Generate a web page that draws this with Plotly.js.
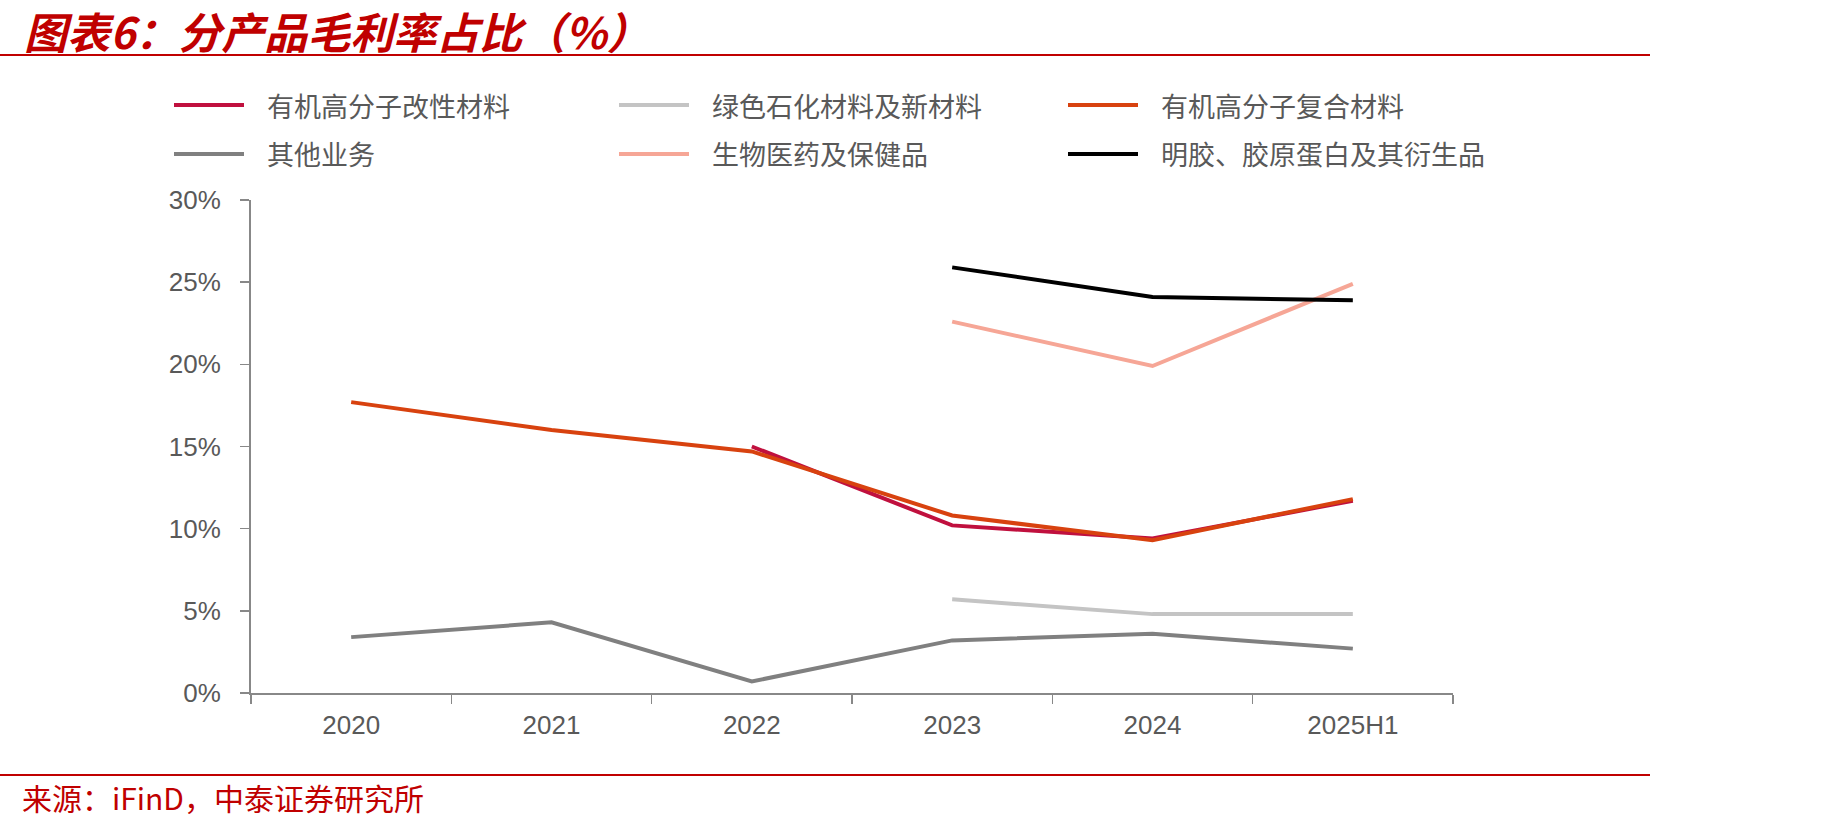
<!DOCTYPE html>
<html>
<head>
<meta charset="utf-8">
<script src="https://cdn.plot.ly/plotly-3.0.1.min.js"></script>
<style>
  html, body { margin: 0; padding: 0; background: #ffffff; }
  #chart { width: 1830px; height: 828px; }
</style>
</head>
<body>
<div id="chart"></div>
<script>
// Gross margin by product line (%), 2020 – 2025H1
const periods = ['2020', '2021', '2022', '2023', '2024', '2025H1'];

const modifiedPolymer   = [null, null, 15.0, 10.2, 9.4, 11.7];   // 有机高分子改性材料
const greenPetrochem    = [null, null, null, 5.7, 4.8, 4.8];     // 绿色石化材料及新材料
const compositePolymer  = [17.7, 16.0, 14.7, 10.8, 9.3, 11.8];   // 有机高分子复合材料
const otherBusiness     = [3.4, 4.3, 0.7, 3.2, 3.6, 2.7];        // 其他业务
const biomedHealth      = [null, null, null, 22.6, 19.9, 24.9];  // 生物医药及保健品
const gelatinCollagen   = [null, null, null, 25.9, 24.1, 23.9];  // 明胶、胶原蛋白及其衍生品

const seriesNames = [
  '有机高分子改性材料', '绿色石化材料及新材料', '有机高分子复合材料',
  '其他业务', '生物医药及保健品', '明胶、胶原蛋白及其衍生品'
];
const seriesValues = [modifiedPolymer, greenPetrochem, compositePolymer,
                      otherBusiness, biomedHealth, gelatinCollagen];
const seriesColors = ['#C0103E', '#C4C4C4', '#D8420F', '#808080', '#F6A696', '#000000'];

const yTickValues = [0, 5, 10, 15, 20, 25, 30];
const yTickLabels = ['0%', '5%', '10%', '15%', '20%', '25%', '30%'];

const titleText  = '图表6：分产品毛利率占比（%）';
const sourceText = '来源：iFinD，中泰证券研究所';

// plot area in page pixels
const PL = 251, PR = 1453, PT = 200, PB = 693;
const W = 1830, H = 828;
const px = x => (x - PL) / (PR - PL);
const py = y => (PB - y) / (PB - PT);

const cjk = '"Noto Sans CJK SC", "Noto Sans", sans-serif';
const latin = '"Liberation Sans", Arial, sans-serif';

const traces = seriesValues.map((vals, i) => ({
  type: 'scatter',
  mode: 'lines',
  name: seriesNames[i],
  x: periods,
  y: vals,
  connectgaps: false,
  line: { color: seriesColors[i], width: 4 },
  hoverinfo: 'x+y+name',
  showlegend: false
}));

// hand-placed legend: three columns, two rows
const legendCols = [174, 619, 1068];
const legendRows = [105, 154];
const shapes = [];
const annotations = [];
seriesNames.forEach((name, i) => {
  const col = i % 3, row = Math.floor(i / 3);
  const x0 = legendCols[col], yy = legendRows[row];
  shapes.push({
    type: 'line', xref: 'paper', yref: 'paper',
    x0: px(x0), x1: px(x0 + 70), y0: py(yy), y1: py(yy),
    line: { color: seriesColors[i], width: 4 }
  });
  annotations.push({
    xref: 'paper', yref: 'paper', x: px(x0 + 91), y: py(yy),
    xanchor: 'left', yanchor: 'middle', showarrow: false,
    text: name, font: { family: cjk, size: 27, color: '#595959' }
  });
});

// header and footer rules
shapes.push({
  type: 'line', xref: 'paper', yref: 'paper',
  x0: px(0), x1: px(1650), y0: py(55), y1: py(55),
  line: { color: '#C00000', width: 2 }
});
shapes.push({
  type: 'line', xref: 'paper', yref: 'paper',
  x0: px(0), x1: px(1650), y0: py(775), y1: py(775),
  line: { color: '#C00000', width: 2 }
});

annotations.push({
  xref: 'paper', yref: 'paper', x: px(22), y: py(30),
  xanchor: 'left', yanchor: 'middle', showarrow: false,
  text: '<b><i>' + titleText + '</i></b>',
  font: { family: cjk, size: 43, color: '#C00000' }
});
annotations.push({
  xref: 'paper', yref: 'paper', x: px(20), y: py(797),
  xanchor: 'left', yanchor: 'middle', showarrow: false,
  text: sourceText,
  font: { family: cjk, size: 30, color: '#C00000' }
});

const layout = {
  width: W, height: H,
  margin: { l: PL, r: W - PR, t: PT, b: H - PB },
  paper_bgcolor: '#ffffff',
  plot_bgcolor: '#ffffff',
  showlegend: false,
  xaxis: {
    type: 'category',
    range: [-0.5, 5.5],
    fixedrange: true,
    showgrid: false, zeroline: false,
    showline: true, linecolor: '#888888', linewidth: 2,
    ticks: 'outside', tickson: 'boundaries', ticklen: 9, tickwidth: 1.5, tickcolor: '#888888',
    ticklabelstandoff: 8,
    tickfont: { family: latin, size: 26, color: '#595959' }
  },
  yaxis: {
    range: [0, 30],
    fixedrange: true,
    showgrid: false, zeroline: false,
    showline: true, linecolor: '#888888', linewidth: 2,
    tickmode: 'array', tickvals: yTickValues, ticktext: yTickLabels,
    ticks: 'outside', ticklen: 9, tickwidth: 1.5, tickcolor: '#888888',
    ticklabelstandoff: 14,
    tickfont: { family: latin, size: 26, color: '#595959' }
  },
  shapes: shapes,
  annotations: annotations
};

Plotly.newPlot('chart', traces, layout, { displayModeBar: false, staticPlot: true });
</script>
</body>
</html>
